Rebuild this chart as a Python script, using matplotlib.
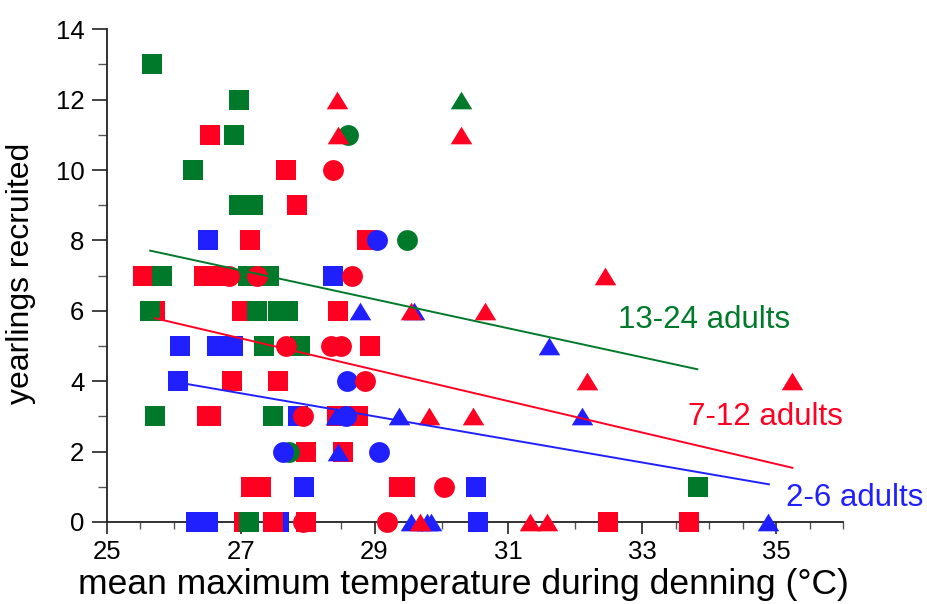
import matplotlib
matplotlib.use("Agg")
import matplotlib.pyplot as plt
from matplotlib.path import Path
from matplotlib.ticker import MultipleLocator

plt.rcParams['font.family'] = ['Liberation Sans', 'DejaVu Sans']

GREEN = "#007A2A"
RED = "#FF0022"
BLUE = "#2020FF"

# ---- data ----
# 13-24 adults (green)
green_sq_x = [25.68, 26.98, 26.90, 26.29, 26.98, 27.19, 25.82, 27.11, 27.43, 25.65, 27.24, 27.56, 27.71, 27.35, 27.89, 25.72, 27.49, 33.83, 27.12]
green_sq_y = [13, 12, 11, 10, 9, 9, 7, 7, 7, 6, 6, 6, 6, 5, 5, 3, 3, 1, 0]
green_ci_x = [28.61, 29.49, 27.72]
green_ci_y = [11, 8, 2]
green_tr_x = [30.29]
green_tr_y = [12]

# 7-12 adults (red)
red_sq_x = [26.54, 27.67, 27.84, 27.14, 28.88, 25.54, 26.46, 26.65, 28.45, 25.72, 27.02, 28.93, 26.87, 27.56,
            26.50, 26.56, 28.44, 28.76, 27.97, 28.53, 27.16, 27.31, 29.37, 29.45, 27.05, 27.48, 27.98, 32.48, 33.70]
red_sq_y = [11, 10, 9, 8, 8, 7, 7, 7, 6, 6, 6, 5, 4, 4,
            3, 3, 3, 3, 2, 2, 1, 1, 1, 1, 0, 0, 0, 0, 0]
red_ci_x = [28.38, 26.82, 27.24, 28.66, 27.67, 28.35, 28.50, 28.85, 27.93, 30.04, 27.93, 29.19]
red_ci_y = [10, 7, 7, 7, 5, 5, 5, 4, 3, 1, 0, 0]
red_tr_x = [28.44, 28.46, 30.29, 32.44, 29.54, 30.65, 32.17, 35.23, 29.82, 30.47, 29.68, 31.32, 31.57]
red_tr_y = [12, 11, 11, 7, 6, 6, 4, 4, 3, 3, 0, 0, 0]

# 2-6 adults (blue)
blue_sq_x = [26.51, 28.38, 26.10, 26.65, 26.88, 26.06, 27.85, 27.95, 30.52, 26.34, 26.51, 27.58, 30.55]
blue_sq_y = [8, 7, 5, 5, 5, 4, 3, 1, 1, 0, 0, 0, 0]
blue_ci_x = [29.04, 28.59, 28.58, 27.64, 29.07]
blue_ci_y = [8, 4, 3, 2, 2]
blue_tr_x = [28.78, 29.59, 31.60, 28.43, 29.36, 32.10, 28.46, 29.54, 29.78, 29.85, 34.88]
blue_tr_y = [6, 6, 5, 3, 3, 3, 2, 0, 0, 0, 0]

# regression lines (end points)
green_line_x = [25.65, 33.82]
green_line_y = [7.71, 4.34]
red_line_x = [25.72, 35.24]
red_line_y = [5.79, 1.54]
blue_line_x = [26.20, 34.89]
blue_line_y = [3.92, 1.07]

group_labels = ["13-24 adults", "7-12 adults", "2-6 adults"]

x_ticks = [25, 27, 29, 31, 33, 35]
y_ticks = [0, 2, 4, 6, 8, 10, 12, 14]

# ---- figure ----
fig = plt.figure(figsize=(9.28, 6.04), dpi=100)
ax = fig.add_axes([0.115, 0.1358, 0.7937, 0.8157])

tri = Path([(0, 0.82), (-1, -0.82), (1, -0.82), (0, 0.82)],
           [Path.MOVETO, Path.LINETO, Path.LINETO, Path.CLOSEPOLY])

ms_sq = 15
ms_ci = 15
ms_tr = 15.5

def pts(x, y, marker, color, ms, z):
    ax.plot(x, y, linestyle='none', marker=marker, color=color, markersize=ms,
            markeredgewidth=0, clip_on=False, zorder=z)

# squares
pts(blue_sq_x, blue_sq_y, 's', BLUE, ms_sq, 3)
pts(red_sq_x, red_sq_y, 's', RED, ms_sq, 3.1)
pts(green_sq_x, green_sq_y, 's', GREEN, ms_sq, 3.2)
# circles
pts(green_ci_x, green_ci_y, 'o', GREEN, ms_ci, 4)
pts(blue_ci_x, blue_ci_y, 'o', BLUE, ms_ci, 4.1)
pts(red_ci_x, red_ci_y, 'o', RED, ms_ci, 4.2)
# triangles
pts(green_tr_x, green_tr_y, tri, GREEN, ms_tr, 5)
pts(blue_tr_x, blue_tr_y, tri, BLUE, ms_tr, 5.1)
pts(red_tr_x, red_tr_y, tri, RED, ms_tr, 5.2)

ax.plot(green_line_x, green_line_y, color=GREEN, lw=1.4, zorder=6, clip_on=False)
ax.plot(red_line_x, red_line_y, color=RED, lw=1.4, zorder=6, clip_on=False)
ax.plot(blue_line_x, blue_line_y, color=BLUE, lw=1.4, zorder=6, clip_on=False)

ax.text(32.63, 5.74, group_labels[0], color=GREEN, fontsize=22.5, ha='left', va='center')
ax.text(33.68, 2.99, group_labels[1], color=RED, fontsize=22.5, ha='left', va='center')
ax.text(35.15, 0.68, group_labels[2], color=BLUE, fontsize=22.5, ha='left', va='center', clip_on=False)

ax.set_xlim(25, 36)
ax.set_ylim(0, 14)
ax.set_xticks(x_ticks)
ax.set_yticks(y_ticks)
ax.xaxis.set_minor_locator(MultipleLocator(0.5))
ax.yaxis.set_minor_locator(MultipleLocator(1))

for s in ['top', 'right']:
    ax.spines[s].set_visible(False)
for s in ['left', 'bottom']:
    ax.spines[s].set_linewidth(1.3)
    ax.spines[s].set_color('#222222')

ax.tick_params(axis='x', which='major', direction='out', length=8.5, width=1.2, labelsize=18.5, pad=4.3, color='#222222')
ax.tick_params(axis='x', which='minor', direction='out', length=5, width=1.0, color='#555555')
ax.tick_params(axis='y', which='major', direction='out', length=11, width=1.2, labelsize=18.5, pad=5, color='#222222')
ax.tick_params(axis='y', which='minor', direction='out', length=6.5, width=1.0, color='#555555')

ax.set_xlabel("mean maximum temperature during denning (°C)", fontsize=25.5)
ax.set_ylabel("yearlings recruited", fontsize=23)
ax.xaxis.set_label_coords(0.484, -0.094)
ax.yaxis.set_label_coords(-0.096, 0.505)

fig.savefig("out.png", dpi=100)
